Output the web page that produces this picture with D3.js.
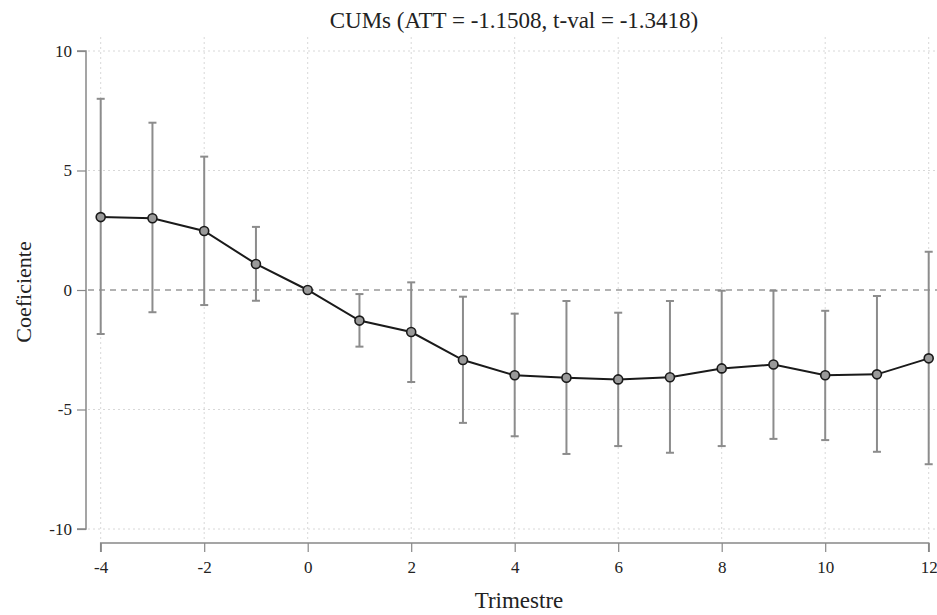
<!DOCTYPE html>
<html>
<head>
<meta charset="utf-8">
<title>CUMs</title>
<script src="https://cdn.jsdelivr.net/npm/d3@7"></script>
<style>
  body { margin: 0; background: #fff; }
  text { font-family: "Liberation Serif", "Times New Roman", serif; fill: #222; }
</style>
</head>
<body>
<script>
  // data
  var trimestre = [-4, -3, -2, -1, 0, 1, 2, 3, 4, 5, 6, 7, 8, 9, 10, 11, 12];
  var coef  = [3.05, 3.0, 2.47, 1.09, 0, -1.28, -1.76, -2.93, -3.57, -3.67, -3.74, -3.65, -3.28, -3.12, -3.57, -3.53, -2.86];
  var upper = [8.0, 7.0, 5.58, 2.64, 0, -0.17, 0.32, -0.28, -0.99, -0.46, -0.95, -0.46, -0.03, -0.03, -0.87, -0.25, 1.6];
  var lower = [-1.84, -0.93, -0.63, -0.45, 0, -2.37, -3.85, -5.56, -6.12, -6.86, -6.53, -6.81, -6.53, -6.23, -6.28, -6.77, -7.29];
  var xTicks = [-4, -2, 0, 2, 4, 6, 8, 10, 12];
  var yTicks = [-10, -5, 0, 5, 10];

  var W = 937, H = 615;
  var svg = d3.select("body").append("svg")
    .attr("width", W)
    .attr("height", H);

  var x = d3.scaleLinear().domain([-4, 12]).range([100.7, 928.7]);
  var y = d3.scaleLinear().domain([-10, 10]).range([529, 51]);

  // grid
  svg.append("g").selectAll("line")
    .data(yTicks.filter(function(d) { return d !== 0; }))
    .enter().append("line")
    .attr("x1", 88).attr("x2", W)
    .attr("y1", function(d) { return y(d); })
    .attr("y2", function(d) { return y(d); })
    .attr("stroke", "#d8d8d8")
    .attr("stroke-width", 1)
    .attr("stroke-dasharray", "2,3");

  svg.append("g").selectAll("line")
    .data(xTicks)
    .enter().append("line")
    .attr("x1", function(d) { return x(d); })
    .attr("x2", function(d) { return x(d); })
    .attr("y1", 37).attr("y2", 540)
    .attr("stroke", "#d8d8d8")
    .attr("stroke-width", 1)
    .attr("stroke-dasharray", "2,3");

  // zero reference
  svg.append("line")
    .attr("x1", 88).attr("x2", W)
    .attr("y1", y(0)).attr("y2", y(0))
    .attr("stroke", "#999")
    .attr("stroke-width", 1.5)
    .attr("stroke-dasharray", "6,5");

  // axes (hyphen minus like the original)
  var fmt = function(d) { return String(d); };
  var yAxis = svg.append("g")
    .attr("transform", "translate(86,0)")
    .call(d3.axisLeft(y).tickValues(yTicks).tickFormat(fmt).tickSize(9).tickPadding(5));
  var xAxis = svg.append("g")
    .attr("transform", "translate(0,543)")
    .call(d3.axisBottom(x).tickValues(xTicks).tickFormat(fmt).tickSize(9).tickPadding(9));

  [xAxis, yAxis].forEach(function(a) {
    a.select(".domain").attr("stroke", "#888").attr("stroke-width", 1.5);
    a.selectAll(".tick line").attr("stroke", "#888").attr("stroke-width", 1.2);
    a.selectAll(".tick text")
      .style("font-family", "Liberation Serif, serif")
      .style("font-size", "17px")
      .attr("fill", "#222");
  });
  xAxis.select(".domain").attr("d", "M" + x(-4) + ",9V0H" + x(12) + "V9");
  yAxis.select(".domain").attr("d", "M-9," + y(10) + "H0V" + y(-10) + "H-9");

  // error bars
  var pts = trimestre.map(function(t, i) {
    return {t: t, c: coef[i], hi: upper[i], lo: lower[i]};
  });
  var bars = svg.append("g").selectAll("g")
    .data(pts.filter(function(d) { return d.hi !== d.lo; }))
    .enter().append("g")
    .attr("stroke", "#8c8c8c")
    .attr("stroke-width", 2);
  bars.append("line")
    .attr("x1", function(d) { return x(d.t); })
    .attr("x2", function(d) { return x(d.t); })
    .attr("y1", function(d) { return y(d.hi); })
    .attr("y2", function(d) { return y(d.lo); });
  bars.append("line")
    .attr("x1", function(d) { return x(d.t) - 4; })
    .attr("x2", function(d) { return x(d.t) + 4; })
    .attr("y1", function(d) { return y(d.hi); })
    .attr("y2", function(d) { return y(d.hi); });
  bars.append("line")
    .attr("x1", function(d) { return x(d.t) - 4; })
    .attr("x2", function(d) { return x(d.t) + 4; })
    .attr("y1", function(d) { return y(d.lo); })
    .attr("y2", function(d) { return y(d.lo); });

  // coefficient line
  var line = d3.line()
    .x(function(d) { return x(d.t); })
    .y(function(d) { return y(d.c); });
  svg.append("path")
    .datum(pts)
    .attr("d", line)
    .attr("fill", "none")
    .attr("stroke", "#1a1a1a")
    .attr("stroke-width", 2);

  svg.append("g").selectAll("circle")
    .data(pts)
    .enter().append("circle")
    .attr("cx", function(d) { return x(d.t); })
    .attr("cy", function(d) { return y(d.c); })
    .attr("r", 4.5)
    .attr("fill", "#9a9a9a")
    .attr("stroke", "#1a1a1a")
    .attr("stroke-width", 1.6);

  // titles
  svg.append("text")
    .attr("x", 514).attr("y", 28)
    .attr("text-anchor", "middle")
    .style("font-size", "23px")
    .text("CUMs (ATT = -1.1508, t-val = -1.3418)");

  svg.append("text")
    .attr("x", 519).attr("y", 608)
    .attr("text-anchor", "middle")
    .style("font-size", "23px")
    .text("Trimestre");

  svg.append("text")
    .attr("transform", "translate(31,292) rotate(-90)")
    .attr("text-anchor", "middle")
    .style("font-size", "22px")
    .text("Coeficiente");
</script>
</body>
</html>
